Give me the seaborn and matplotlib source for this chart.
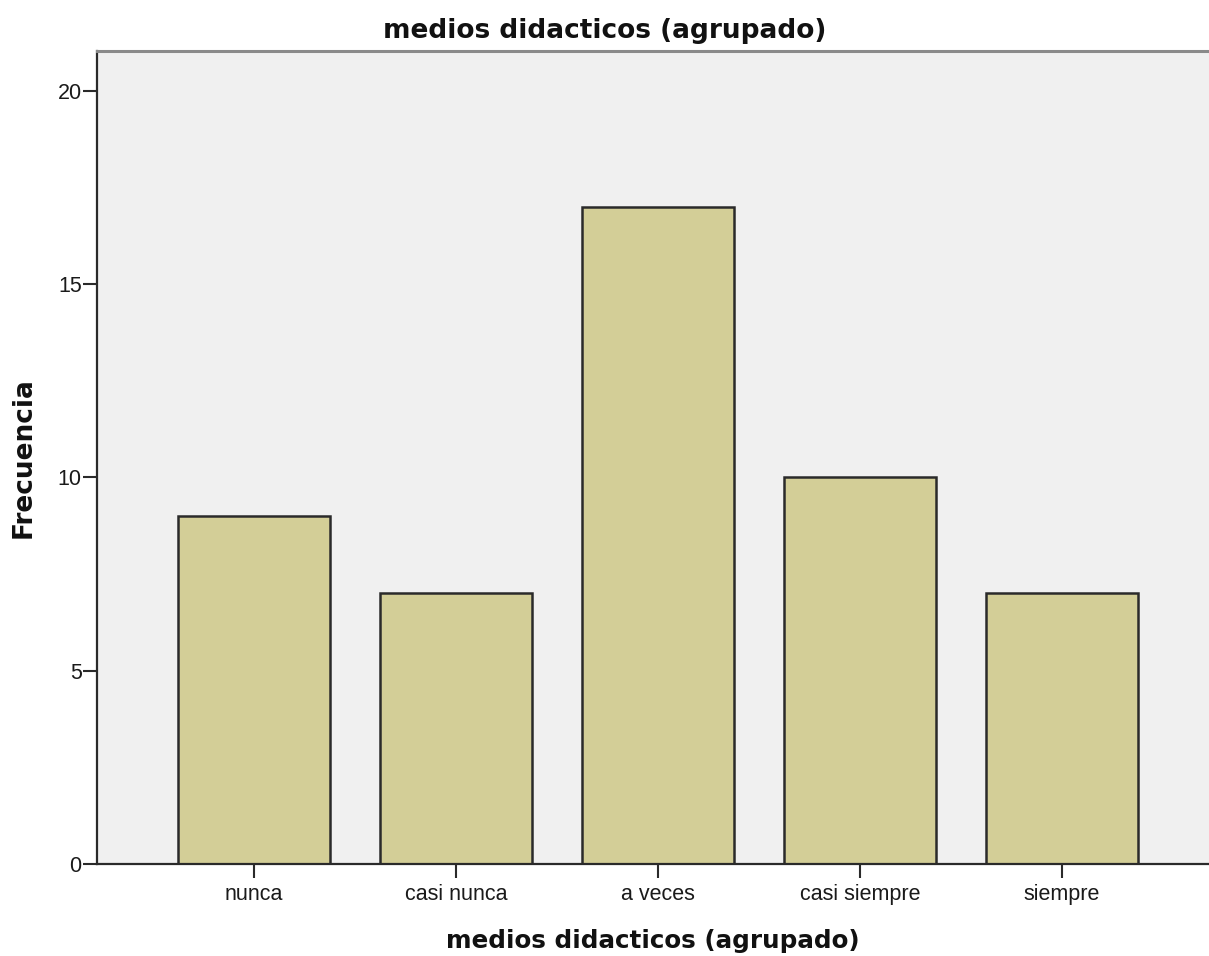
import matplotlib
matplotlib.use("Agg")
import matplotlib.pyplot as plt
import seaborn as sns
import pandas as pd

categories = ["nunca", "casi nunca", "a veces", "casi siempre", "siempre"]
frecuencia = [9, 7, 17, 10, 7]
yticks = [0, 5, 10, 15, 20]

df = pd.DataFrame({"cat": categories, "freq": frecuencia})

sns.set_theme(style="white")
plt.rcParams['font.family'] = ['Liberation Sans', 'DejaVu Sans']

fig = plt.figure(figsize=(12.09, 9.56), dpi=100)
ax = fig.add_axes([0.0802, 0.0962, 0.9198, 0.8505])
ax.set_facecolor("#F0F0F0")

sns.barplot(data=df, x="cat", y="freq", order=categories, color="#D3CE97",
            saturation=1, width=0.752, edgecolor="#2a2a2a", linewidth=1.8, ax=ax)

ax.set_xlim(-0.777, 4.728)
ax.set_ylim(0, 21.03)
ax.set_yticks(yticks)
ax.set_yticklabels([str(v) for v in yticks])

ax.spines["right"].set_visible(False)
for s in ["left", "bottom"]:
    ax.spines[s].set_color("#2a2a2a")
    ax.spines[s].set_linewidth(1.6)
ax.spines["top"].set_color("#8a8a8a")
ax.spines["top"].set_linewidth(2.2)

ax.tick_params(axis="both", which="both", direction="out", length=10, width=1.5,
               color="#2a2a2a", labelsize=15.5, labelcolor="#1a1a1a",
               bottom=True, left=True)
ax.tick_params(axis="x", pad=4.5)
ax.tick_params(axis="y", pad=1)

ax.set_xlabel("medios didacticos (agrupado)", fontsize=17.7, fontweight="bold",
              color="#111111", labelpad=17, family=["DejaVu Sans"])
ax.set_ylabel("Frecuencia", fontsize=19, fontweight="bold", color="#111111",
              labelpad=15, family=["DejaVu Sans"])
ax.set_title("medios didacticos (agrupado)", fontsize=19, fontweight="bold",
             color="#111111", pad=9, x=0.457, family=["DejaVu Sans"])

fig.savefig("out.png", dpi=100, facecolor="white")
